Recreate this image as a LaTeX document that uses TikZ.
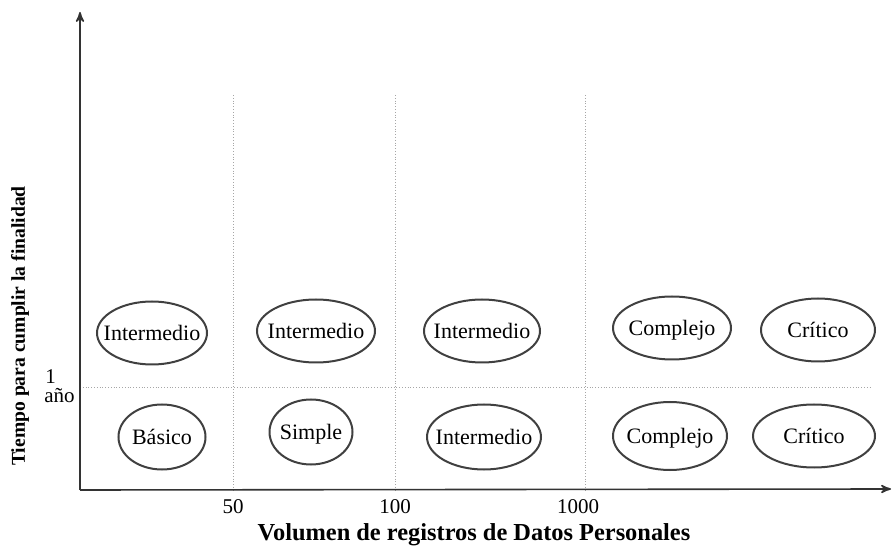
\documentclass[tikz,border=0pt]{standalone}
\usepackage{fontspec}
\setmainfont{Liberation Serif}
\usetikzlibrary{arrows,shapes.geometric}

\begin{document}
\begin{tikzpicture}[x=0.5pt,y=-0.5pt,>=stealth',
  level node/.style={ellipse,draw=black!75,line width=1pt,inner xsep=-8pt,
  inner ysep=0pt,minimum height=31.5pt,text height=1.8ex,text depth=0.1ex,
  font=\fontsize{11}{13}\selectfont},
  limit line/.style={densely dotted,black!35,line width=0.4pt},
  axis label/.style={font=\fontsize{10.5}{12}\selectfont}]

  \useasboundingbox (0,0) rectangle (893,549);

  % ejes
  \coordinate (o) at (80,490);
  \coordinate (ytop) at (80,12);
  \coordinate (xend) at (891,489);

  % limites de volumen y de tiempo
  \foreach \x in {233,395,585}
    \draw[limit line] (\x,95) -- (\x,490);
  \draw[limit line] (80,387) -- (870,387);

  \draw[->,line width=0.8pt,black!80] (o) -- (ytop);
  \draw[->,line width=0.8pt,black!80] (o) -- (xend);

  % fila superior: mas de 1 ano
  \node[level node,minimum width=55pt] (i1) at (152,333) {Intermedio};
  \node[level node,minimum width=59pt] (i2) at (316,331) {Intermedio};
  \node[level node,minimum width=58pt] (i3) at (482,331) {Intermedio};
  \node[level node,minimum width=59pt] (c1) at (672,328) {Complejo};
  \node[level node,minimum width=57pt] (k1) at (818,330) {Crítico};

  % fila inferior: hasta 1 ano
  \node[level node,minimum width=43.5pt,minimum height=32.5pt] (b) at (162,437) {Básico};
  \node[level node,minimum width=41.5pt,minimum height=32.5pt] (s) at (311,432) {Simple};
  \node[level node,minimum width=57pt,minimum height=32.5pt] (i4) at (484,437) {Intermedio};
  \node[level node,minimum width=57pt,minimum height=34pt] (c2) at (670,436) {Complejo};
  \node[level node,minimum width=61pt] (k2) at (814,436) {Crítico};

  % etiquetas
  \node[axis label] (t50) at (233,507) {50};
  \node[axis label] (t100) at (395,507) {100};
  \node[axis label] (t1000) at (578,507) {1000};
  \node[axis label,anchor=west,inner sep=0pt] (uno) at (45,377) {1};
  \node[axis label,anchor=west,inner sep=0pt] (ano) at (44,396) {año};

  \node[font=\fontsize{12.2}{14}\selectfont\bfseries] (xlab) at (474,535)
    {Volumen de registros de Datos Personales};
  \node[font=\fontsize{9.8}{12}\selectfont\bfseries,rotate=90] (ylab) at (20,326)
    {Tiempo para cumplir la finalidad};
\end{tikzpicture}
\end{document}
